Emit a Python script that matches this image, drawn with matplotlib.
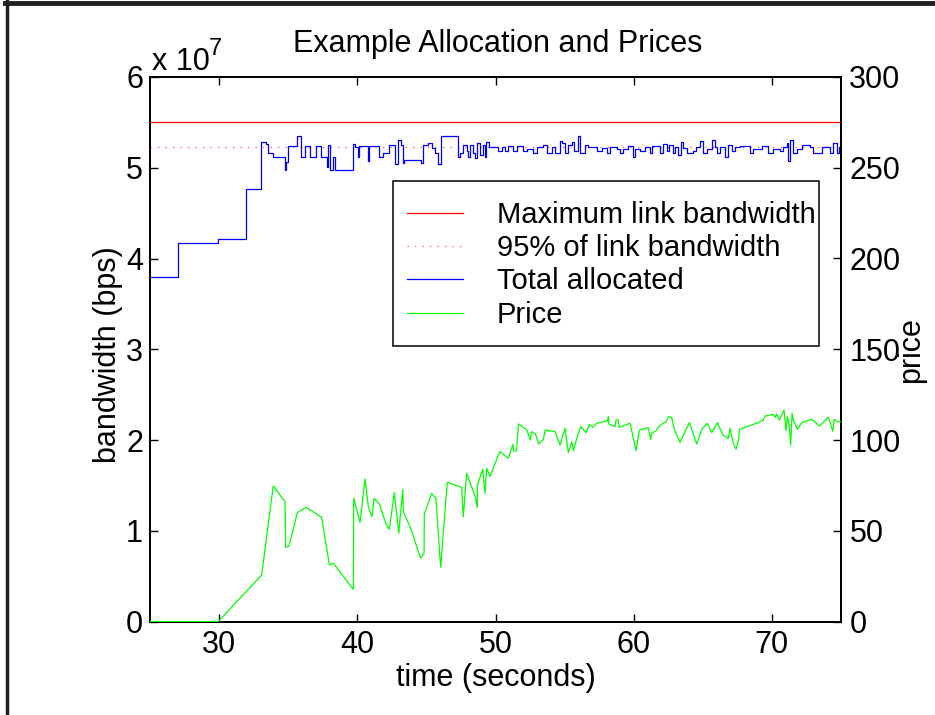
import numpy as np
import matplotlib
matplotlib.use('Agg')
import matplotlib.pyplot as plt
from matplotlib.lines import Line2D
from matplotlib.patches import Rectangle

plt.rcParams['font.family'] = ['Liberation Sans', 'DejaVu Sans']
plt.rcParams['font.size'] = 22

# data
max_bw = 5.5          # x 1e7 bps
frac_95 = 0.95

# total allocated bandwidth (x 1e7 bps), step changes at these times
alloc_t = [25.0, 27.05, 29.9, 31.93, 33.03, 33.4, 33.56, 33.88, 34.77, 34.85,
           35.01, 35.61, 35.93, 36.22, 36.58, 36.99, 37.35, 37.78, 37.9, 38.02,
           38.22, 38.39, 39.66, 39.8, 40.07, 40.15, 40.8, 40.85, 41.59, 41.88,
           42.32, 42.73, 42.97, 43.14, 43.28, 43.38, 44.58, 44.78, 45.14, 45.38,
           45.62, 45.86, 46.05, 47.31, 47.43, 47.67, 47.91, 48.03, 48.15, 48.35,
           48.51, 48.63, 48.88, 49.12, 49.24, 49.31, 49.55, 50.2, 50.44, 50.69,
           50.93, 51.29, 51.53, 52.01, 52.25, 52.73, 52.98, 53.46, 53.7, 54.06,
           54.3, 54.66, 54.79, 55.03, 55.27, 55.51, 55.68, 55.99, 56.11, 56.47,
           56.71, 57.32, 57.68, 58.04, 58.28, 58.77, 59.01, 59.25, 59.62, 59.98,
           60.1, 60.46, 60.82, 61.18, 61.3, 61.91, 62.15, 62.39, 62.58, 62.82,
           62.99, 63.23, 63.4, 63.6, 63.89, 64.27, 64.51, 64.8, 65.0, 65.28,
           65.65, 65.89, 66.01, 66.25, 66.61, 66.85, 67.09, 67.33, 67.7, 68.42,
           68.66, 69.26, 69.75, 70.11, 70.59, 70.83, 71.07, 71.19, 71.31, 71.51,
           71.8, 72.16, 72.76, 73.0, 73.6, 74.21, 74.4, 74.69, 74.88, 75.0]
alloc_bw = [3.80, 4.17, 4.21, 4.77, 5.28, 5.26, 5.16, 5.12, 4.97, 5.06,
            5.24, 5.35, 5.12, 5.24, 5.12, 5.24, 5.12, 5.01, 5.25, 4.98,
            5.12, 4.97, 5.26, 5.23, 5.12, 5.24, 5.07, 5.24, 5.12, 5.16,
            5.25, 5.04, 5.31, 5.25, 5.05, 5.09, 5.05, 5.25, 5.27, 5.22,
            5.16, 5.04, 5.35, 5.12, 5.16, 5.25, 5.18, 5.12, 5.25, 5.16,
            5.11, 5.27, 5.14, 5.25, 5.12, 5.28, 5.23, 5.18, 5.23, 5.18,
            5.24, 5.18, 5.24, 5.18, 5.21, 5.16, 5.23, 5.25, 5.16, 5.23,
            5.16, 5.30, 5.27, 5.16, 5.25, 5.28, 5.18, 5.35, 5.16, 5.25,
            5.23, 5.18, 5.22, 5.16, 5.23, 5.21, 5.16, 5.21, 5.24, 5.12,
            5.21, 5.18, 5.23, 5.16, 5.24, 5.16, 5.26, 5.18, 5.25, 5.16,
            5.23, 5.14, 5.28, 5.22, 5.16, 5.18, 5.23, 5.29, 5.16, 5.21,
            5.31, 5.23, 5.16, 5.23, 5.12, 5.25, 5.18, 5.23, 5.24, 5.16,
            5.21, 5.24, 5.16, 5.21, 5.18, 5.23, 5.27, 5.07, 5.31, 5.16,
            5.21, 5.25, 5.23, 5.16, 5.23, 5.16, 5.27, 5.16, 5.23, 5.23]

# price
price_t = [25.0, 29.94, 33.08, 33.92, 34.77, 34.82, 35.06, 35.66, 36.29, 37.42,
           37.98, 38.27, 39.71, 39.74, 40.2, 40.56, 40.8, 41.06, 41.21, 41.6,
           42.08, 42.32, 42.68, 43.0, 43.29, 43.33, 43.86, 44.58, 44.83, 44.85,
           45.38, 45.69, 46.03, 46.51, 47.55, 47.67, 47.91, 48.52, 48.68, 48.7,
           49.07, 49.24, 49.36, 49.6, 50.3, 50.93, 51.26, 51.3, 51.52, 51.66,
           52.26, 52.52, 52.6, 52.9, 53.12, 53.47, 53.59, 54.31, 54.67, 55.03,
           55.27, 55.52, 55.64, 55.88, 56.17, 56.55, 56.8, 57.04, 57.32, 58.1,
           58.17, 58.2, 58.65, 58.72, 58.89, 58.94, 59.74, 60.17, 60.41, 61.06,
           61.23, 61.3, 61.62, 61.91, 62.34, 62.51, 62.75, 62.92, 63.35, 64.03,
           64.56, 64.92, 65.33, 65.65, 66.06, 66.44, 66.85, 66.97, 67.21, 67.41,
           67.58, 67.65, 69.02, 69.38, 69.5, 70.11, 70.23, 70.35, 70.54, 70.88,
           71.02, 71.12, 71.26, 71.36, 71.46, 71.55, 71.84, 72.16, 72.88, 73.44,
           74.09, 74.4, 74.52, 74.74, 75.0]
price = [0, 0, 25.6, 74.7, 66.0, 40.9, 41.6, 60.0, 62.9, 57.4,
         31.1, 32.1, 17.7, 67.9, 54.6, 78.5, 63.3, 57.7, 67.9, 64.7,
         53.7, 50.8, 71.0, 48.6, 72.8, 60.5, 51.4, 34.8, 37.6, 59.2,
         70.6, 67.9, 29.9, 76.7, 73.9, 57.7, 81.7, 69.2, 62.9, 75.2,
         83.9, 70.6, 84.4, 79.8, 93.6, 90.0, 97.7, 94.0, 94.0, 108.8,
         105.7, 100.0, 104.6, 103.2, 97.8, 100.3, 105.5, 104.6, 97.2, 106.4,
         93.0, 99.1, 94.1, 100.9, 107.4, 104.1, 108.6, 107.0, 109.2, 110.6,
         112.8, 108.8, 107.4, 111.0, 111.0, 107.0, 109.2, 94.1, 105.5, 106.8,
         100.3, 103.7, 105.1, 108.2, 110.1, 112.8, 112.5, 106.4, 98.6, 109.6,
         97.8, 105.9, 109.2, 104.1, 109.6, 102.8, 100.9, 106.4, 98.2, 94.9,
         100.0, 105.9, 109.6, 111.0, 113.2, 114.1, 112.5, 114.3, 111.0, 116.5,
         105.1, 112.8, 107.4, 97.2, 114.7, 111.0, 105.9, 109.6, 111.4, 107.7,
         112.5, 104.9, 111.4, 110.1, 110.1]

labels = ['Maximum link bandwidth', '95% of link bandwidth', 'Total allocated', 'Price']

fig = plt.figure(figsize=(9.35, 7.15), dpi=100)
ax = fig.add_axes([150 / 935, 1 - 621.5 / 715, 691 / 935, 544.5 / 715])
ax2 = ax.twinx()

l1 = ax.axhline(max_bw, color=(1, 0, 0), lw=0.9)
l2 = ax.axhline(max_bw * frac_95, color='#ff5a5a', lw=0.9, ls=(0, (1, 5)))
l3, = ax.plot(alloc_t, alloc_bw, color=(0, 0, 1), lw=0.9, drawstyle='steps-post')
l4, = ax2.plot(price_t, price, color=(0, 1, 0), lw=0.9, zorder=3)

ax.set_xlim(25, 75)
ax.set_ylim(0, 6)
ax2.set_ylim(0, 300)
ax.set_xticks([30, 40, 50, 60, 70])
ax.set_yticks(range(0, 7))
ax2.set_yticks(range(0, 301, 50))

ax.tick_params(direction='in', length=6, width=1, top=True, right=False, pad=5)
ax.tick_params(axis='x', pad=6)
ax2.tick_params(direction='in', length=6, width=1, pad=6)
for a in (ax, ax2):
    for s in a.spines.values():
        s.set_linewidth(1.4)

# legend box drawn by hand so it sits where the original one is
ax2.add_patch(Rectangle((0.351, 0.506), 0.6176, 0.303, transform=ax2.transAxes,
                        facecolor='white', edgecolor='black', lw=1.1, zorder=5))
leg = ax2.legend([l1, l2, l3, l4], labels, loc='center left',
                 bbox_to_anchor=(0.351, 0.655), frameon=False, fontsize=21,
                 borderpad=0, handlelength=1.9, handletextpad=1.18, labelspacing=0.18)
leg.set_zorder(6)

fig.text(497.5 / 935, 1 - 44 / 715, 'Example Allocation and Prices', ha='center', va='center')
fig.text(152 / 935, 1 - 70 / 715, 'x 10', ha='left', va='baseline')
fig.text(209 / 935, 1 - 55 / 715, '7', ha='left', va='baseline', fontsize=17)
fig.text(495.5 / 935, 1 - 678 / 715, 'time (seconds)', ha='center', va='center')
fig.text(108 / 935, 1 - 355 / 715, 'bandwidth (bps)', ha='center', va='center', rotation=90)
fig.text(911 / 935, 1 - 350 / 715, 'price', ha='center', va='center', rotation=90)

# frame around the figure (top and left edges)
fig.add_artist(Line2D([6.5 / 935, 6.5 / 935], [0, 1], transform=fig.transFigure, color='#202020', lw=2.5))
fig.add_artist(Line2D([5 / 935, 1], [1 - 2.5 / 715, 1 - 2.5 / 715], transform=fig.transFigure, color='#202020', lw=3.5))

fig.savefig('out.png', dpi=100)
